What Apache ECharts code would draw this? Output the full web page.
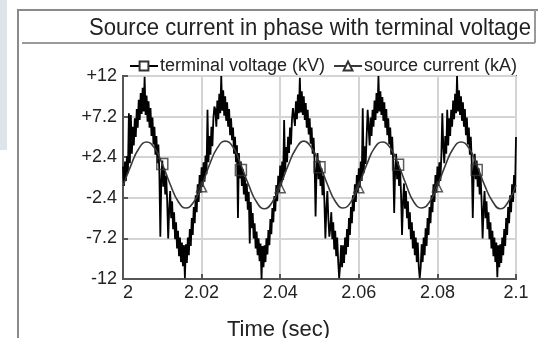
<!DOCTYPE html>
<html>
<head>
<meta charset="utf-8">
<script src="https://cdn.jsdelivr.net/npm/echarts@6/dist/echarts.min.js"></script>
<style>
  html, body { margin: 0; padding: 0; background: #fff; }
  #chart { width: 538px; height: 338px; }
</style>
</head>
<body>
<div id="chart"></div>
<script>
// terminal voltage (kV), sampled every 0.25 ms from t = 2.000 s
const vStart = 2.0;
const vStep = 0.00025;
const terminalVoltage = [
  // 2.000 - 2.01975
  1.3, -1.0, 1.9, -0.4, 2.5, 0.5, 7.6, 1.7, 7.4, 2.8,
  6.0, 3.8, 7.0, 4.8, 8.1, 5.9, 9.2, 6.8, 10.0, 7.5,
  10.6, 7.8, 11.9, 7.4, 9.7, 6.6, 9.0, 5.9, 8.2, 4.9,
  7.1, 3.9, 6.0, 2.7, 4.9, 1.7, 3.9, 0.7, -7.0, -0.2,
  2.0, -1.1, 1.1, -2.0, 0.2, -2.9, -7.2, -3.8, -1.6, -4.8,
  -2.8, -6.1, -4.1, -7.3, -5.3, -8.4, -6.3, -9.3, -7.1, -10.0,
  -7.7, -10.5, -8.0, -11.9, -7.9, -10.1, -7.1, -9.2, -6.1, -8.1,
  -4.8, -6.8, -3.5, -5.4, -2.1, -4.1, -0.8, -2.9, 0.3, -1.8,
  // 2.020 - 2.03975
  1.2, -1.1, 1.8, -0.5, 2.6, 0.4, 8.0, 1.8, 4.9, 2.7,
  6.0, 3.7, 7.0, 8.4, 8.0, 6.0, 9.1, 6.9, 9.9, 7.6,
  12.0, 7.9, 10.3, 7.3, 9.6, 6.7, 8.9, 6.0, 8.1, 5.0,
  7.0, 4.4, 5.9, 2.8, 4.8, 1.8, 3.8, -4.8, 2.9, -0.1,
  1.9, -1.0, 1.0, -2.0, 0.1, -2.8, -0.7, -3.8, -1.7, -7.8,
  -2.9, -6.0, -4.2, -7.2, -5.4, -8.4, -6.4, -9.2, -7.2, -9.9,
  -7.8, -12.0, -8.1, -10.6, -8.0, -10.0, -7.2, -9.1, -6.2, -8.0,
  -4.9, -6.7, -3.6, -5.3, -2.2, -4.0, -0.9, -2.8, 0.2, -1.7,
  // 2.040 - 2.05975
  1.4, -1.0, 1.9, -0.3, 6.8, 0.6, 3.6, 1.8, 4.8, 2.9,
  5.9, 3.9, 6.9, 8.2, 8.0, 6.1, 9.0, 6.9, 9.8, 7.6,
  11.8, 7.7, 10.2, 7.4, 9.6, 6.8, 8.8, 5.9, 8.0, 5.1,
  7.0, 4.0, 5.9, 2.8, 4.7, 1.8, -4.6, 0.8, 2.9, -0.2,
  2.0, -1.0, 1.1, -2.1, 0.2, -2.9, -7.2, -3.7, -1.6, -4.8,
  -7.0, -6.0, -4.1, -7.3, -5.3, -8.5, -6.3, -9.3, -7.1, -9.9,
  -11.9, -10.4, -8.0, -10.6, -8.0, -10.1, -7.1, -9.1, -6.1, -8.2,
  -4.8, -6.8, -3.5, -5.4, -2.1, -4.0, -0.8, -2.9, 0.3, -1.8,
  // 2.060 - 2.07975
  1.1, -1.2, 1.9, -0.4, 8.2, 0.5, 3.7, 1.6, 4.9, 8.0,
  5.9, 3.8, 7.1, 4.9, 8.0, 6.0, 9.1, 6.8, 10.0, 7.6,
  12.0, 7.8, 10.2, 7.4, 9.5, 6.7, 8.9, 5.9, 8.1, 5.0,
  7.0, 3.9, 5.9, 2.7, 4.8, 1.8, -4.2, 0.8, 2.8, -0.2,
  1.9, -1.0, 1.0, -2.0, -6.8, -2.9, -0.7, -3.7, -1.6, -4.8,
  -2.8, -6.1, -4.1, -7.3, -5.3, -8.4, -6.3, -9.2, -7.1, -10.0,
  -7.7, -10.5, -11.9, -10.6, -7.9, -10.0, -7.1, -9.2, -6.0, -8.1,
  -4.8, -6.8, -3.5, -5.4, -2.1, -4.1, -0.8, -2.9, 0.3, -1.8,
  // 2.080 - 2.09975
  1.3, -1.0, 1.8, -0.4, 2.5, 7.6, 3.6, 1.7, 4.9, 2.8,
  8.0, 3.8, 7.0, 4.9, 8.0, 6.0, 9.1, 6.9, 9.9, 7.6,
  12.0, 7.8, 10.3, 7.4, 9.6, 6.7, 8.9, 6.0, 8.1, 5.0,
  7.1, 3.9, 5.9, 2.7, 4.8, 1.7, -4.8, 0.7, 2.8, -0.2,
  2.0, -1.1, 1.1, -2.0, 0.2, -2.9, -7.2, -3.8, -1.6, -4.8,
  -2.8, -6.1, -4.1, -7.3, -5.3, -8.4, -6.3, -9.3, -7.1, -10.0,
  -7.7, -11.8, -8.0, -10.6, -7.9, -10.1, -7.1, -9.2, -6.1, -8.1,
  -4.8, -6.8, -3.5, -5.4, -2.1, -4.1, -0.8, -2.9, 0.3, -1.8,
  // 2.100
  4.8
];

// source current (kA), sampled every 2 ms from t = 2.000 s
const iStart = 2.0;
const iStep = 0.002;
const sourceCurrent = [
  -1.0, 1.4, 3.4, 4.2, 3.5, 1.6, -0.8, -2.8, -3.6, -2.9,
  -1.0, 1.5, 3.5, 4.3, 3.6, 1.5, -0.9, -2.9, -3.7, -2.9,
  -1.0, 1.4, 3.4, 4.3, 3.5, 1.6, -0.8, -2.8, -3.6, -2.9,
  -0.9, 1.5, 3.5, 4.2, 3.5, 1.6, -0.8, -2.9, -3.6, -2.9,
  -1.0, 1.4, 3.4, 4.2, 3.5, 1.5, -0.9, -2.8, -3.7, -2.9,
  -0.9
];

// marker positions
const squareTimes = [2.01, 2.03, 2.05, 2.07, 2.09];
const squareVals = [1.6, 0.9, 1.2, 1.5, 0.9];
const triangleTimes = [2.02, 2.04, 2.06, 2.08];
const triangleVals = [-1.1, -1.2, -1.2, -1.1];

const xTicks = [2, 2.02, 2.04, 2.06, 2.08, 2.1];
const yMin = -12, yMax = 12, yStep = 4.8;

const titleText = 'Source current in phase with terminal voltage';
const seriesNames = ['terminal voltage (kV)', 'source current (kA)'];
const xName = 'Time (sec)';

const font = "'Liberation Sans', Arial, sans-serif";

document.addEventListener('DOMContentLoaded', () => {
  const chart = echarts.init(document.getElementById('chart'), null, { renderer: 'canvas' });

  const vData = terminalVoltage.map((v, i) => [vStart + i * vStep, v]);
  const iData = sourceCurrent.map((v, i) => [iStart + i * iStep, v]);
  const sqData = squareTimes.map((t, i) => [t, squareVals[i]]);
  const trData = triangleTimes.map((t, i) => [t, triangleVals[i]]);

  const option = {
    backgroundColor: '#fff',
    animation: false,
    graphic: [
      // strip at far left
      { type: 'rect', shape: { x: 0, y: 0, width: 7, height: 150 }, style: { fill: '#dde5ea' } },
      // outer frame
      { type: 'polyline', shape: { points: [[18, 338], [18, 10], [538, 10]] }, style: { stroke: '#8a8a8a', lineWidth: 2, fill: null } },
      // line under title
      { type: 'line', shape: { x1: 22, y1: 43, x2: 535, y2: 43 }, style: { stroke: '#9a9a9a', lineWidth: 2 } },
      { type: 'line', shape: { x1: 535, y1: 10, x2: 535, y2: 43 }, style: { stroke: '#9a9a9a', lineWidth: 2 } },
      // title, slightly condensed
      {
        type: 'text', x: 310, y: 28, scaleX: 0.92,
        style: {
          text: titleText, fontFamily: font, fontSize: 24, fill: '#222',
          textAlign: 'center', textVerticalAlign: 'middle'
        }
      }
    ],
    legend: {
      data: seriesNames,
      left: 124,
      top: 52,
      itemWidth: 28,
      itemHeight: 11,
      itemGap: 8,
      textStyle: { fontFamily: font, fontSize: 18, color: '#222', padding: [0, 0, 0, -3] }
    },
    grid: {
      left: 123, right: 22, top: 76, bottom: 59,
      outerBoundsMode: 'none',
      show: true, borderColor: '#555', borderWidth: 2,
      containLabel: false
    },
    xAxis: {
      type: 'value',
      min: 2, max: 2.1, interval: 0.02,
      name: xName,
      nameLocation: 'middle',
      nameGap: 40,
      nameTextStyle: { fontFamily: font, fontSize: 22, color: '#222', padding: [0, 82, 0, 0] },
      axisLine: { onZero: false, lineStyle: { color: '#555', width: 2 } },
      axisTick: { inside: true, length: 5, lineStyle: { color: '#555', width: 2 } },
      axisLabel: {
        fontFamily: font, fontSize: 18, color: '#222', margin: 5,
        alignMinLabel: 'left',
        formatter: v => {
          const t = xTicks.find(x => Math.abs(x - v) < 1e-9);
          return t === undefined ? '' : String(t);
        }
      },
      splitLine: { show: true, lineStyle: { color: '#d4d4d4', width: 2 } }
    },
    yAxis: {
      type: 'value',
      min: yMin, max: yMax, interval: yStep,
      axisLine: { onZero: false, lineStyle: { color: '#555', width: 2 } },
      axisTick: { inside: true, length: 5, lineStyle: { color: '#555', width: 2 } },
      axisLabel: {
        fontFamily: font, fontSize: 18, color: '#222', margin: 6,
        formatter: v => {
          const r = Number(v.toFixed(1));
          return r > 0 ? '+' + r : String(r);
        }
      },
      splitLine: { show: true, lineStyle: { color: '#d4d4d4', width: 2 } }
    },
    series: [
      {
        name: seriesNames[0],
        type: 'line',
        data: vData,
        symbol: 'emptyRect',
        showSymbol: false,
        sampling: false,
        lineStyle: { color: '#000', width: 1.8 },
        itemStyle: { color: '#333' },
        z: 3
      },
      {
        name: seriesNames[1],
        type: 'line',
        data: iData,
        smooth: 0.5,
        symbol: 'emptyTriangle',
        showSymbol: false,
        lineStyle: { color: '#3a3a3a', width: 1.6 },
        itemStyle: { color: '#333' },
        z: 4
      },
      {
        type: 'scatter',
        data: sqData,
        symbol: 'rect',
        symbolSize: 11,
        itemStyle: { color: 'rgba(0,0,0,0)', borderColor: '#333', borderWidth: 1.5 },
        z: 5
      },
      {
        type: 'scatter',
        data: trData,
        symbol: 'triangle',
        symbolSize: 10,
        itemStyle: { color: 'rgba(0,0,0,0)', borderColor: '#333', borderWidth: 1.5 },
        z: 5
      }
    ]
  };

  chart.setOption(option);
});
</script>
</body>
</html>
